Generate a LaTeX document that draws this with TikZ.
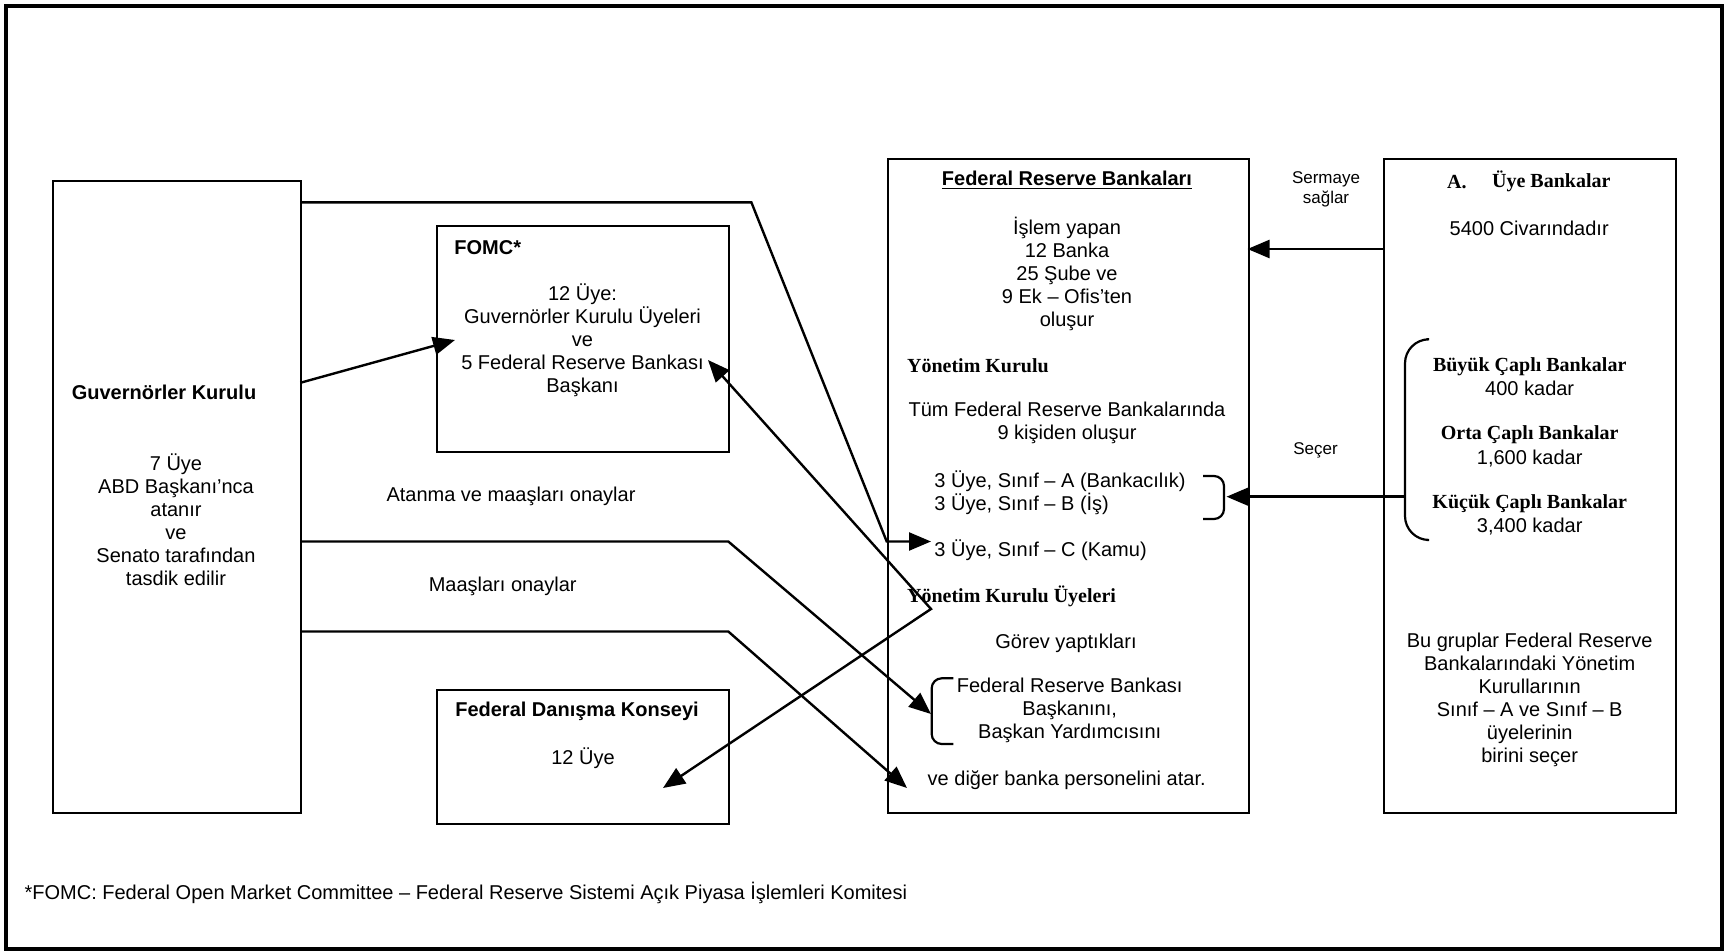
\documentclass[tikz,border=0pt]{standalone}
\usepackage{fontspec}
\setmainfont{Liberation Sans}
\newfontfamily\serifb{Liberation Serif}
\usetikzlibrary{arrows.meta}
\begin{document}
\begin{tikzpicture}[x=0.5pt,y=-0.5pt,
  box/.style={draw, line width=1pt, anchor=north west, inner sep=0pt},
  txt/.style={inner sep=0pt, align=center, font=\fontsize{10pt}{11.5pt}\selectfont},
  txtb/.style={txt, font=\fontsize{10pt}{11.5pt}\selectfont\bfseries},
  sb/.style={inner sep=0pt, align=center, font=\fontsize{10pt}{11pt}\selectfont\serifb\bfseries},
  small/.style={inner sep=0pt, align=center, font=\fontsize{8.5pt}{10pt}\selectfont},
  conn/.style={line width=1.2pt, -{Triangle[length=11pt,width=9pt]}},
  brk/.style={line width=1.1pt, rounded corners=5pt}]
\useasboundingbox (0,0) rectangle (1725,951);
% outer frame
\node[draw, line width=2pt, anchor=north west, inner sep=0pt, minimum width=858pt, minimum height=471.5pt] (frame) at (4,4) {};
% boxes
\node[box, minimum width=124.3pt, minimum height=315.75pt] (gk) at (51.7,180.4) {};
\node[box, minimum width=146.35pt, minimum height=112.75pt] (fomc) at (435.6,225.5) {};
\node[box, minimum width=146.35pt, minimum height=67.1pt] (fdk) at (435.6,688.7) {};
\node[box, minimum width=180.4pt, minimum height=326.75pt] (frb) at (886.7,158.4) {};
\node[box, minimum width=146.3pt, minimum height=326.75pt] (uye) at (1382.8,158.4) {};

% Guvernorler Kurulu
\node[txtb] (gkT) at (164,392.7) {Guvernörler Kurulu};
\node[txt] (gkB) at (176,519.5) {7 Üye\\ABD Başkanı’nca\\atanır\\ve\\Senato tarafından\\tasdik edilir};

% FOMC
\node[txtb, anchor=west] (fomcT) at (454,247.5) {FOMC*};
\node[txt] (fomcB) at (582.5,340.5) {12 Üye:\\Guvernörler Kurulu Üyeleri\\ve\\5 Federal Reserve Bankası\\Başkanı};

% Federal Danisma
\node[txtb] (fdkT) at (577,711.7) {Federal Danışma Konseyi};
\node[txt] (fdkB) at (583,758) {12 Üye};

% FRB
\node[txtb] (frbT) at (1067,180) {\underline{Federal Reserve Bankaları}};
\node[txt] (frb1) at (1067,274) {İşlem yapan\\12 Banka\\25 Şube ve\\9 Ek – Ofis’ten\\oluşur};
\node[sb, anchor=west] (yk) at (906.7,366) {Yönetim Kurulu};
\node[txt] (frb2) at (1067,423.3) {Tüm Federal Reserve Bankalarında\\9 kişiden oluşur};
\node[txt, align=left, anchor=west] (frbAB) at (934,492.8) {3 Üye, Sınıf – A (Bankacılık)\\3 Üye, Sınıf – B (İş)};
\node[txt, anchor=west] (frbC) at (934,550) {3 Üye, Sınıf – C (Kamu)};
\node[sb, anchor=west] (yku) at (906.7,596.7) {Yönetim Kurulu Üyeleri};
\node[txt] (gorev) at (1066,643) {Görev yaptıkları};
\node[txt] (baskan) at (1069.7,710) {Federal Reserve Bankası\\Başkanını,\\Başkan Yardımcısını};
\node[txt] (diger) at (1066.7,780.7) {ve diğer banka personelini atar.};

% Uye Bankalar
\node[sb, anchor=west] (uyeA) at (1446.7,181.7) {A.};
\node[sb, anchor=west] (uyeT) at (1491.7,181.7) {Üye Bankalar};
\node[txt] (uye1) at (1529.2,228.3) {5400 Civarındadır};
\node[sb] (buyuk) at (1529.7,366.7) {Büyük Çaplı Bankalar};
\node[txt] (buyukN) at (1529.7,388.3) {400 kadar};
\node[sb] (orta) at (1529.7,435) {Orta Çaplı Bankalar};
\node[txt] (ortaN) at (1529.7,458.3) {1,600 kadar};
\node[sb] (kucuk) at (1529.7,504) {Küçük Çaplı Bankalar};
\node[txt] (kucukN) at (1529.7,526.7) {3,400 kadar};
\node[txt] (uye2) at (1529.7,700) {Bu gruplar Federal Reserve\\Bankalarındaki Yönetim\\Kurullarının\\Sınıf – A ve Sınıf – B\\üyelerinin\\birini seçer};

% side labels
\node[small] (sermaye) at (1326,189.3) {Sermaye\\sağlar};
\node[small] (secer) at (1315.5,450) {Seçer};
\node[txt] (atanma) at (511,496) {Atanma ve maaşları onaylar};
\node[txt] (maas) at (502.7,586) {Maaşları onaylar};

% footnote
\node[txt, anchor=west] (foot) at (24.2,893) {*FOMC: Federal Open Market Committee – Federal Reserve Sistemi Açık Piyasa İşlemleri Komitesi};

% brackets
\coordinate (brA1) at (1203,476);
\coordinate (brA2) at (1224,476);
\coordinate (brA3) at (1224,519);
\coordinate (brA4) at (1203,519);
\draw[brk] (brA1) -- (brA2) -- (brA3) -- (brA4);
\coordinate (brB1) at (953.3,678.3);
\coordinate (brB2) at (931.7,678.3);
\coordinate (brB3) at (931.7,744);
\coordinate (brB4) at (953.3,744);
\draw[brk] (brB1) -- (brB2) -- (brB3) -- (brB4);
\coordinate (brC1) at (1426.7,339.3);
\coordinate (brC2) at (1405,339.3);
\coordinate (brC3) at (1405,540);
\coordinate (brC4) at (1426.7,540);
\draw[brk, rounded corners=12pt] (brC1) -- (brC2) -- (brC3) -- (brC4);

% connectors
\coordinate (c1s) at (300.3,202.4);
\coordinate (c1a) at (751.4,202.4);
\coordinate (c1b) at (886.7,541.5);
\coordinate (c1t) at (931,541.5);
\draw[conn] (c1s) -- (c1a) -- (c1b) -- (c1t);

\coordinate (c2s) at (300.3,382.8);
\coordinate (c2t) at (455,340);
\draw[conn] (c2s) -- (c2t);

\coordinate (c3a) at (708,360);
\coordinate (c3v) at (931,609);
\coordinate (c3b) at (663,788);
\draw[line width=1.2pt, {Triangle[length=11pt,width=9pt]}-{Triangle[length=11pt,width=9pt]}] (c3a) -- (c3v) -- (c3b);

\coordinate (c4s) at (300.3,541.5);
\coordinate (c4a) at (728.3,541.5);
\coordinate (c4t) at (931,714);
\draw[conn] (c4s) -- (c4a) -- (c4t);

\coordinate (c5s) at (300.3,631.5);
\coordinate (c5a) at (728.3,631.5);
\coordinate (c5t) at (907,788);
\draw[conn] (c5s) -- (c5a) -- (c5t);

\coordinate (c6s) at (1382.8,249);
\coordinate (c6t) at (1247.5,249);
\draw[conn] (c6s) -- (c6t);

\coordinate (c7s) at (1405,496.7);
\coordinate (c7t) at (1226.5,496.7);
\draw[conn] (c7s) -- (c7t);
\end{tikzpicture}
\end{document}
